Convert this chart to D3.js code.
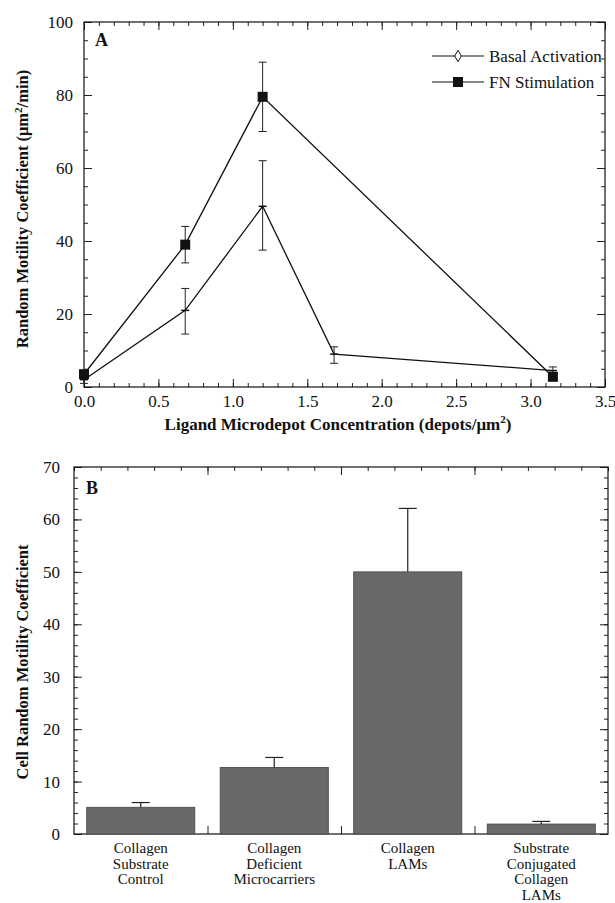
<!DOCTYPE html>
<html>
<head>
<meta charset="utf-8">
<script src="https://cdn.jsdelivr.net/npm/d3@7"></script>
<style>
body { margin: 0; background: #fff; }
svg text { font-family: "Liberation Serif", "DejaVu Serif", serif !important; fill: #111; }
</style>
</head>
<body>
<div id="canvas"></div>
<script>
"use strict"

/* Panel A values */
let basalConc = [0, 0.68, 1.2, 1.68, 3.15];
let basalMean = [2, 21, 49.5, 9, 4.5];
let basalLow = [1, 14.5, 37.5, 6.5, 3.5];
let basalHigh = [3, 27, 62, 11, 5.5];

let fnConc = [0, 0.68, 1.2, 3.15];
let fnMean = [3.5, 39, 79.5, 2.8];
let fnLow = [3.5, 34, 70, 2.8];
let fnHigh = [3.5, 44, 89, 2.8];

let seriesNames = ["Basal Activation", "FN Stimulation"];
let xTicksA = [0, 0.5, 1, 1.5, 2, 2.5, 3, 3.5];
let yTicksA = [0, 20, 40, 60, 80, 100];

/* Panel B values */
let categories = [
    ["Collagen", "Substrate", "Control"],
    ["Collagen", "Deficient", "Microcarriers"],
    ["Collagen", "LAMs"],
    ["Substrate", "Conjugated", "Collagen", "LAMs"]
];
let motility = [5.1, 12.7, 50, 1.9];
let motilityTop = [6.0, 14.6, 62.1, 2.4];
let yTicksB = [0, 10, 20, 30, 40, 50, 60, 70];

let serif = "'Liberation Serif', 'DejaVu Serif', serif";

/* canvas */
let drawing = d3.select("#canvas")
    .append("svg")
    .attr("width", 615)
    .attr("height", 903)
    .style("font-family", serif);

drawing.append("rect")
    .attr("width", 615)
    .attr("height", 903)
    .attr("fill", "white");

/* ---------- Panel A ---------- */
let ax = { left: 84, right: 605, top: 22, bottom: 387 };

let xA = d3.scaleLinear().domain([0, 3.5]).range([ax.left, ax.right]);
let yA = d3.scaleLinear().domain([0, 100]).range([ax.bottom, ax.top]);

let panelA = drawing.append("g");

function inwardAxes(g, xs, ys, xMajor, xMinor, yMajor, yMinor, box, fmtX) {
    // bottom, labelled
    g.append("g").attr("transform", `translate(0,${box.bottom})`)
        .call(d3.axisBottom(xs).tickValues(xMinor).tickSize(-4).tickFormat(""));
    g.append("g").attr("transform", `translate(0,${box.bottom})`)
        .call(d3.axisBottom(xs).tickValues(xMajor).tickSize(-8).tickPadding(8).tickFormat(fmtX));
    // top
    g.append("g").attr("transform", `translate(0,${box.top})`)
        .call(d3.axisTop(xs).tickValues(xMinor).tickSize(-4).tickFormat(""));
    g.append("g").attr("transform", `translate(0,${box.top})`)
        .call(d3.axisTop(xs).tickValues(xMajor).tickSize(-8).tickFormat(""));
    // left, labelled
    g.append("g").attr("transform", `translate(${box.left},0)`)
        .call(d3.axisLeft(ys).tickValues(yMinor).tickSize(-4).tickFormat(""));
    g.append("g").attr("transform", `translate(${box.left},0)`)
        .call(d3.axisLeft(ys).tickValues(yMajor).tickSize(-8).tickPadding(11).tickFormat(d3.format("d")));
    // right
    g.append("g").attr("transform", `translate(${box.right},0)`)
        .call(d3.axisRight(ys).tickValues(yMinor).tickSize(-4).tickFormat(""));
    g.append("g").attr("transform", `translate(${box.right},0)`)
        .call(d3.axisRight(ys).tickValues(yMajor).tickSize(-8).tickFormat(""));
}

inwardAxes(panelA, xA, yA, xTicksA, d3.range(0, 3.51, 0.1), yTicksA, d3.range(0, 101, 5), ax, d3.format(".1f"));

panelA.selectAll("g").attr("font-family", serif);
panelA.selectAll(".domain").remove();
panelA.selectAll(".tick line").attr("stroke", "#222");
panelA.selectAll(".tick text").attr("font-size", 17).style("font-family", serif);

panelA.append("rect")
    .attr("x", ax.left).attr("y", ax.top)
    .attr("width", ax.right - ax.left).attr("height", ax.bottom - ax.top)
    .attr("fill", "none").attr("stroke", "#111").attr("stroke-width", 1.2);

/* error bars */
function errorBars(g, xs, lows, highs) {
    xs.forEach(function (xv, i) {
        g.append("line")
            .attr("x1", xA(xv)).attr("x2", xA(xv))
            .attr("y1", yA(lows[i])).attr("y2", yA(highs[i]))
            .attr("stroke", "#222").attr("stroke-width", 1);
        [lows[i], highs[i]].forEach(function (v) {
            g.append("line")
                .attr("x1", xA(xv) - 4).attr("x2", xA(xv) + 4)
                .attr("y1", yA(v)).attr("y2", yA(v))
                .attr("stroke", "#222").attr("stroke-width", 1);
        });
    });
}
errorBars(panelA, basalConc, basalLow, basalHigh);
errorBars(panelA, fnConc, fnLow, fnHigh);

let lineGen = d3.line().x(d => xA(d[0])).y(d => yA(d[1]));

panelA.append("path")
    .attr("d", lineGen(d3.zip(basalConc, basalMean)))
    .attr("fill", "none").attr("stroke", "#111").attr("stroke-width", 1.3);

panelA.append("path")
    .attr("d", lineGen(d3.zip(fnConc, fnMean)))
    .attr("fill", "none").attr("stroke", "#111").attr("stroke-width", 1.3);

/* basal markers are tiny (look like small dashes) */
panelA.selectAll(".basalPt")
    .data(d3.zip(basalConc, basalMean))
    .enter().append("line")
    .attr("x1", d => xA(d[0]) - 4).attr("x2", d => xA(d[0]) + 4)
    .attr("y1", d => yA(d[1])).attr("y2", d => yA(d[1]))
    .attr("stroke", "#111").attr("stroke-width", 1.5);

panelA.selectAll(".fnPt")
    .data(d3.zip(fnConc, fnMean))
    .enter().append("rect")
    .attr("x", d => xA(d[0]) - 5).attr("y", d => yA(d[1]) - 5)
    .attr("width", 10).attr("height", 10)
    .attr("fill", "#111");

/* panel letter */
panelA.append("text")
    .attr("x", ax.left + 11).attr("y", ax.top + 24)
    .attr("font-size", 18).attr("font-weight", "bold")
    .text("A");

/* legend */
let legend = panelA.append("g");
seriesNames.forEach(function (name, i) {
    let ly = 56 + i * 26;
    legend.append("line")
        .attr("x1", 432).attr("x2", 484).attr("y1", ly).attr("y2", ly)
        .attr("stroke", "#111").attr("stroke-width", 1.2);
    if (i === 0) {
        legend.append("path")
            .attr("d", d3.symbol(d3.symbolDiamond, 38)())
            .attr("transform", `translate(458,${ly})`)
            .attr("fill", "white").attr("stroke", "#111").attr("stroke-width", 1);
    } else {
        legend.append("rect")
            .attr("x", 453).attr("y", ly - 5).attr("width", 10).attr("height", 10)
            .attr("fill", "#111");
    }
    legend.append("text")
        .attr("x", 489).attr("y", ly + 6)
        .attr("font-size", 17)
        .text(name);
});

/* axis titles */
let xTitleA = panelA.append("text")
    .attr("x", 338).attr("y", 430)
    .attr("text-anchor", "middle")
    .attr("font-size", 17).attr("font-weight", "bold");
xTitleA.append("tspan").text("Ligand Microdepot Concentration (depots/μm");
xTitleA.append("tspan").attr("dy", -7).attr("font-size", 11).text("2");
xTitleA.append("tspan").attr("dy", 7).text(")");

let yTitleA = panelA.append("text")
    .attr("transform", "translate(28,209) rotate(-90)")
    .attr("text-anchor", "middle")
    .attr("font-size", 16.5).attr("font-weight", "bold");
yTitleA.append("tspan").text("Random Motility Coefficient (μm");
yTitleA.append("tspan").attr("dy", -6).attr("font-size", 11).text("2");
yTitleA.append("tspan").attr("dy", 6).text("/min)");

/* ---------- Panel B ---------- */
let bx = { left: 74, right: 608, top: 467, bottom: 834 };

let xB = d3.scaleBand()
    .domain(d3.range(categories.length))
    .range([bx.left, bx.right])
    .paddingInner(0.19)
    .paddingOuter(0.095);
let slotB = d3.scaleLinear().domain([0, categories.length]).range([bx.left, bx.right]);
let yB = d3.scaleLinear().domain([0, 70]).range([bx.bottom, bx.top]);

let panelB = drawing.append("g");

/* top ticks: five per category slot */
panelB.append("g").attr("transform", `translate(0,${bx.top})`)
    .call(d3.axisTop(slotB).tickValues(d3.range(0, 4.01, 0.2)).tickSize(-4).tickFormat(""));
panelB.append("g").attr("transform", `translate(0,${bx.top})`)
    .call(d3.axisTop(slotB).tickValues([1, 2, 3]).tickSize(-8).tickFormat(""));
/* bottom separators */
panelB.append("g").attr("transform", `translate(0,${bx.bottom})`)
    .call(d3.axisBottom(slotB).tickValues([1, 2, 3]).tickSize(-8).tickFormat(""));

panelB.append("g").attr("transform", `translate(${bx.left},0)`)
    .call(d3.axisLeft(yB).tickValues(d3.range(0, 71, 2)).tickSize(-4).tickFormat(""));
panelB.append("g").attr("transform", `translate(${bx.left},0)`)
    .call(d3.axisLeft(yB).tickValues(yTicksB).tickSize(-8).tickPadding(14).tickFormat(d3.format("d")));
panelB.append("g").attr("transform", `translate(${bx.right},0)`)
    .call(d3.axisRight(yB).tickValues(d3.range(0, 71, 2)).tickSize(-4).tickFormat(""));
panelB.append("g").attr("transform", `translate(${bx.right},0)`)
    .call(d3.axisRight(yB).tickValues(yTicksB).tickSize(-8).tickFormat(""));

panelB.selectAll("g").attr("font-family", serif);
panelB.selectAll(".domain").remove();
panelB.selectAll(".tick line").attr("stroke", "#222");
panelB.selectAll(".tick text").attr("font-size", 17).style("font-family", serif);

panelB.append("rect")
    .attr("x", bx.left).attr("y", bx.top)
    .attr("width", bx.right - bx.left).attr("height", bx.bottom - bx.top)
    .attr("fill", "none").attr("stroke", "#111").attr("stroke-width", 1.2);

/* bars */
panelB.selectAll(".bar")
    .data(motility)
    .enter().append("rect")
    .attr("x", (d, i) => xB(i))
    .attr("y", d => yB(d))
    .attr("width", xB.bandwidth())
    .attr("height", d => yB(0) - yB(d))
    .attr("fill", "#696969")
    .attr("stroke", "#444")
    .attr("stroke-width", 0.8);

/* upper error bars */
motilityTop.forEach(function (v, i) {
    let cx = xB(i) + xB.bandwidth() / 2;
    panelB.append("line")
        .attr("x1", cx).attr("x2", cx)
        .attr("y1", yB(motility[i])).attr("y2", yB(v))
        .attr("stroke", "#222").attr("stroke-width", 1.2);
    panelB.append("line")
        .attr("x1", cx - 9).attr("x2", cx + 9)
        .attr("y1", yB(v)).attr("y2", yB(v))
        .attr("stroke", "#222").attr("stroke-width", 1.2);
});

/* category labels */
categories.forEach(function (lines, i) {
    let t = panelB.append("text")
        .attr("x", xB(i) + xB.bandwidth() / 2)
        .attr("y", 853)
        .attr("text-anchor", "middle")
        .attr("font-size", 15);
    lines.forEach(function (s, k) {
        t.append("tspan")
            .attr("x", xB(i) + xB.bandwidth() / 2)
            .attr("dy", k === 0 ? 0 : 15.5)
            .text(s);
    });
});

panelB.append("text")
    .attr("x", bx.left + 12).attr("y", bx.top + 27)
    .attr("font-size", 18).attr("font-weight", "bold")
    .text("B");

panelB.append("text")
    .attr("transform", "translate(28,662) rotate(-90)")
    .attr("text-anchor", "middle")
    .attr("font-size", 16.5).attr("font-weight", "bold")
    .text("Cell Random Motility Coefficient");
</script>
</body>
</html>
